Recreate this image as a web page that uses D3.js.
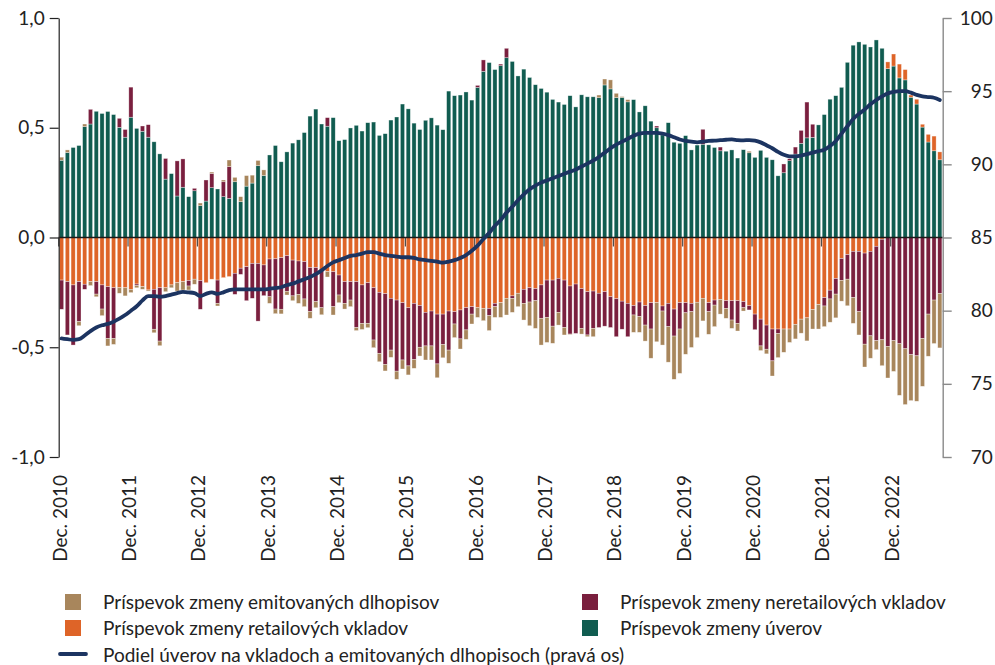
<!DOCTYPE html>
<html>
<head>
<meta charset="utf-8">
<script src="https://cdn.jsdelivr.net/npm/d3@7"></script>
<style>
  html, body { margin: 0; padding: 0; background: #fff; }
  svg { display: block; font-family: Lato, "Open Sans", sans-serif; }
</style>
</head>
<body>
<svg id="chart" width="995" height="665"></svg>
<script>
// ---------------- DATA ----------------
const months = d3.timeMonth.range(new Date(2010, 11, 1), new Date(2023, 8, 1)); // Dec 2010 .. Aug 2023

const loans = [
  .352,.387,.41,.419,.505,.517,.575,.565,.574,.56,
  .502,.457,.548,.497,.484,.457,.436,.381,.266,.291,
  .189,.229,.186,.213,.145,.166,.227,.221,.186,.178,
  .254,.163,.234,.248,.327,.282,.376,.419,.345,.39,
  .43,.445,.478,.553,.585,.517,.507,.546,.441,.446,
  .499,.511,.485,.523,.526,.465,.473,.535,.549,.608,
  .586,.521,.492,.534,.545,.512,.491,.667,.646,.649,
  .663,.626,.684,.757,.797,.765,.783,.819,.802,.736,
  .767,.729,.696,.679,.662,.629,.617,.606,.646,.595,
  .65,.641,.641,.637,.695,.677,.637,.638,.618,.628,
  .572,.6,.53,.5,.467,.523,.434,.429,.464,.399,
  .421,.425,.422,.41,.395,.393,.399,.362,.4,.386,
  .365,.397,.365,.354,.281,.295,.35,.38,.429,.454,
  .456,.513,.56,.63,.646,.684,.798,.876,.891,.88,
  .868,.9,.862,.769,.781,.727,.718,.639,.608,.503,
  .435,.395,.354
];

const retail = [
  -.194,-.201,-.216,-.201,-.213,-.201,-.201,-.216,-.224,-.229,
  -.229,-.229,-.236,-.212,-.224,-.239,-.236,-.229,-.229,-.216,
  -.206,-.201,-.196,-.19,-.196,-.206,-.19,-.194,-.183,-.178,
  -.163,-.14,-.133,-.118,-.118,-.125,-.098,-.097,-.092,-.083,
  -.103,-.107,-.11,-.137,-.137,-.15,-.155,-.156,-.171,-.201,
  -.201,-.201,-.216,-.206,-.229,-.25,-.256,-.277,-.285,-.297,
  -.32,-.3,-.31,-.341,-.335,-.349,-.349,-.335,-.338,-.33,
  -.32,-.315,-.32,-.323,-.323,-.3,-.297,-.277,-.266,-.254,
  -.236,-.229,-.233,-.216,-.194,-.194,-.186,-.194,-.221,-.212,
  -.233,-.247,-.244,-.254,-.247,-.27,-.279,-.29,-.3,-.31,
  -.294,-.31,-.297,-.297,-.312,-.3,-.326,-.297,-.297,-.3,
  -.295,-.277,-.297,-.285,-.282,-.288,-.288,-.288,-.292,-.311,
  -.349,-.372,-.399,-.417,-.417,-.417,-.417,-.396,-.372,-.366,
  -.328,-.305,-.274,-.24,-.187,-.096,-.078,-.063,-.063,-.071,
  -.063,-.04,-.008,.031,.055,.063,.047,.01,.022,.013,
  .035,.067,.036
];

const nonretail = [
  -.133,-.243,-.274,-.182,-.023,.067,-.057,-.11,-.236,-.231,
  .041,.035,.137,-.007,.024,.057,-.182,-.243,.094,0,
  .16,.129,-.025,.011,-.131,.096,.065,-.106,.068,.145,
  -.096,-.028,-.155,-.159,-.263,-.14,-.172,-.229,-.235,-.162,
  -.163,-.152,-.17,-.2,-.155,-.17,.039,-.159,-.091,-.099,
  -.084,-.209,-.175,-.185,-.238,-.278,-.322,-.236,-.324,-.261,
  -.265,-.255,-.19,-.153,-.159,-.227,-.139,-.178,-.056,-.132,
  -.101,-.034,.009,.052,-.033,-.015,.007,.043,-.011,0,
  -.064,-.065,-.055,-.152,-.17,-.21,-.155,-.216,-.219,-.225,
  -.181,-.197,-.17,-.156,-.157,-.14,-.173,-.128,-.152,-.043,
  -.066,-.089,-.12,.008,-.023,-.106,-.123,-.12,-.046,-.038,
  0,.068,-.041,-.023,.017,-.035,-.088,-.103,-.028,-.019,
  -.071,-.122,-.11,-.145,-.02,.04,.009,.032,.059,.163,
  .06,0,-.038,-.04,-.071,-.099,-.112,-.211,-.275,-.415,
  -.385,-.43,-.458,-.496,-.47,-.484,-.507,-.534,-.539,-.46,
  -.349,-.285,-.255
];

const bonds = [
  .014,.012,0,-.019,.012,-.018,-.012,-.03,-.034,-.027,
  -.025,-.037,-.015,-.01,-.012,-.005,-.016,-.021,-.018,-.013,
  -.038,-.038,-.018,-.023,.012,0,.006,-.012,.008,.03,
  .02,.023,.048,.036,.024,.026,-.03,-.021,-.021,-.017,
  -.022,-.041,-.035,-.031,-.028,-.032,-.025,-.038,-.035,-.026,
  -.03,-.014,-.028,-.02,-.035,-.038,-.03,-.033,-.037,-.041,
  -.041,-.041,-.04,-.064,-.064,-.063,-.06,-.06,-.062,-.046,
  -.043,-.045,-.044,-.056,-.068,-.049,-.067,-.076,-.064,-.061,
  -.076,-.108,-.126,-.122,-.114,-.078,-.058,-.034,-.003,0,
  -.026,-.008,-.038,.012,.027,.041,.02,.004,.01,-.079,
  -.072,-.073,-.133,-.178,-.155,-.162,-.197,-.202,-.189,-.163,
  -.161,-.103,-.103,-.098,-.067,-.045,-.038,-.035,-.015,.007,
  0,-.021,-.021,-.069,-.11,-.106,-.061,-.066,-.064,-.105,
  -.089,-.112,-.094,-.106,-.108,-.095,-.121,-.117,-.106,-.104,
  -.102,-.041,-.118,-.144,-.14,-.235,-.254,-.209,-.207,-.218,
  -.192,-.198,-.248
];

const ratio = [
  78.1,78.05,78.0,78.05,78.3,78.6,78.85,79.0,79.1,79.25,
  79.45,79.7,80.0,80.3,80.7,81.0,81.0,80.95,81.0,81.1,
  81.2,81.28,81.25,81.2,81.0,81.15,81.25,81.15,81.25,81.4,
  81.45,81.45,81.45,81.45,81.45,81.45,81.5,81.55,81.6,81.75,
  81.85,82.0,82.15,82.3,82.5,82.75,83.05,83.3,83.45,83.6,
  83.75,83.8,83.9,84.0,84.0,83.9,83.8,83.75,83.7,83.65,
  83.65,83.6,83.5,83.45,83.4,83.35,83.28,83.35,83.45,83.6,
  83.8,84.1,84.45,84.9,85.3,85.8,86.2,86.7,87.1,87.55,
  87.95,88.3,88.55,88.75,88.9,89.05,89.2,89.35,89.5,89.65,
  89.85,90.05,90.25,90.5,90.8,91.1,91.35,91.55,91.75,91.95,
  92.1,92.15,92.15,92.15,92.1,92.0,91.85,91.7,91.6,91.55,
  91.5,91.55,91.6,91.62,91.65,91.68,91.7,91.66,91.64,91.66,
  91.62,91.5,91.3,91.1,90.85,90.65,90.55,90.55,90.6,90.7,
  90.8,90.9,91.0,91.25,91.6,92.1,92.6,93.1,93.45,93.75,
  94.1,94.4,94.65,94.85,94.95,95.0,95.0,94.9,94.75,94.65,
  94.6,94.55,94.4
];

const xTickLabels = ["Dec. 2010","Dec. 2011","Dec. 2012","Dec. 2013","Dec. 2014","Dec. 2015",
  "Dec. 2016","Dec. 2017","Dec. 2018","Dec. 2019","Dec. 2020","Dec. 2021","Dec. 2022"];
const leftTicks = [-1, -0.5, 0, 0.5, 1];
const rightTicks = [70, 75, 80, 85, 90, 95, 100];

const seriesKeys = ["loans", "retail", "nonretail", "bonds"];
const seriesNames = {
  bonds: "Príspevok zmeny emitovaných dlhopisov",
  retail: "Príspevok zmeny retailových vkladov",
  nonretail: "Príspevok zmeny neretailových vkladov",
  loans: "Príspevok zmeny úverov"
};
const lineName = "Podiel úverov na vkladoch a emitovaných dlhopisoch (pravá os)";

// ---------------- STYLE ----------------
const colors = { loans: "#105c50", retail: "#de6428", nonretail: "#7a1f3e", bonds: "#a8865c" };
const lineColor = "#1c3461";

// ---------------- BUILD ----------------
const table = months.map((m, i) => ({
  i, month: m, loans: loans[i], retail: retail[i], nonretail: nonretail[i], bonds: bonds[i]
}));

const svg = d3.select("#chart");
const plot = { left: 58.7, right: 942.7, top: 18, bottom: 457 };

const pad = 0.28;
const x = d3.scaleBand().domain(d3.range(months.length))
  .range([plot.left, plot.right]).paddingInner(pad).paddingOuter(pad / 2);
const yL = d3.scaleLinear().domain([-1, 1]).range([plot.bottom, plot.top]);
const yR = d3.scaleLinear().domain([70, 100]).range([plot.bottom, plot.top]);

const stacked = d3.stack().keys(seriesKeys).offset(d3.stackOffsetDiverging)(table);

svg.append("g").selectAll("g").data(stacked).join("g")
  .attr("fill", d => colors[d.key])
  .selectAll("rect").data(d => d).join("rect")
  .attr("x", d => x(d.data.i))
  .attr("width", x.bandwidth())
  .attr("y", d => yL(Math.max(d[0], d[1])))
  .attr("height", d => Math.abs(yL(d[0]) - yL(d[1])))
  .attr("stroke", "rgba(255,255,255,0.55)")
  .attr("stroke-width", 0.6);

// zero line
svg.append("line")
  .attr("x1", plot.left).attr("x2", plot.right)
  .attr("y1", yL(0)).attr("y2", yL(0))
  .attr("stroke", "#1a1a1a").attr("stroke-width", 1.3);

// x ticks at December band edges
const decIdx = months.map((m, i) => (m.getMonth() === 11 ? i : -1)).filter(i => i >= 0);
const xt = svg.append("g");
xt.selectAll("line").data(decIdx).join("line")
  .attr("x1", i => x(i) - x.step() * pad / 2).attr("x2", i => x(i) - x.step() * pad / 2)
  .attr("y1", yL(0)).attr("y2", yL(0) + 9)
  .attr("stroke", "#333").attr("stroke-width", 1);
xt.selectAll("text").data(decIdx).join("text")
  .attr("transform", (i) => `translate(${x(i) - x.step() * pad / 2 + 8},475) rotate(-90)`)
  .attr("text-anchor", "end")
  .attr("font-size", 19).attr("fill", "#222")
  .text((i, k) => xTickLabels[k]);

// ratio line
const line = d3.line()
  .x((d, i) => x(i) + x.bandwidth() / 2)
  .y(d => yR(d))
  .curve(d3.curveMonotoneX);
svg.append("path").datum(ratio)
  .attr("d", line).attr("fill", "none")
  .attr("stroke", lineColor).attr("stroke-width", 3.8)
  .attr("stroke-linejoin", "round").attr("stroke-linecap", "round");

// axes
const loc = d3.formatLocale({ decimal: ",", thousands: " ", grouping: [3], currency: ["", ""], minus: "-" });
const fmt = loc.format(".1f");

const gL = svg.append("g").attr("transform", `translate(${plot.left},0)`)
  .call(d3.axisLeft(yL).tickValues(leftTicks).tickSize(9).tickSizeOuter(0).tickFormat(fmt));
gL.select(".domain").attr("stroke", "#222").attr("stroke-width", 1.2);
gL.selectAll(".tick line").attr("stroke", "#222").attr("stroke-width", 1.2);
gL.selectAll(".tick text").attr("font-family", "Lato, sans-serif").attr("font-size", 19)
  .attr("fill", "#222").attr("x", -14);

const gR = svg.append("g").attr("transform", `translate(${plot.right},0)`)
  .call(d3.axisRight(yR).tickValues(rightTicks).tickSize(9).tickSizeOuter(0));
gR.select(".domain").attr("stroke", "#8a8a8a").attr("stroke-width", 1.4);
gR.selectAll(".tick line").attr("stroke", "#8a8a8a").attr("stroke-width", 1.4);
gR.selectAll(".tick text").attr("font-family", "Lato, sans-serif").attr("font-size", 19)
  .attr("fill", "#222").attr("text-anchor", "end").attr("x", 50);

// legend
const legendItems = [
  { key: "bonds", x: 65, y: 594 },
  { key: "retail", x: 65, y: 620 },
  { key: "nonretail", x: 582, y: 594 },
  { key: "loans", x: 582, y: 620 }
];
const lg = svg.append("g");
legendItems.forEach(it => {
  lg.append("rect").attr("x", it.x).attr("y", it.y).attr("width", 16).attr("height", 16)
    .attr("fill", colors[it.key]);
  lg.append("text").attr("x", it.x + 38).attr("y", it.y + 14.5)
    .attr("font-size", 19).attr("fill", "#222").text(seriesNames[it.key]);
});
lg.append("line").attr("x1", 60).attr("x2", 86).attr("y1", 654).attr("y2", 654)
  .attr("stroke", lineColor).attr("stroke-width", 3.8).attr("stroke-linecap", "round");
lg.append("text").attr("x", 103).attr("y", 661.5)
  .attr("font-size", 19).attr("fill", "#222").text(lineName);
</script>
</body>
</html>
